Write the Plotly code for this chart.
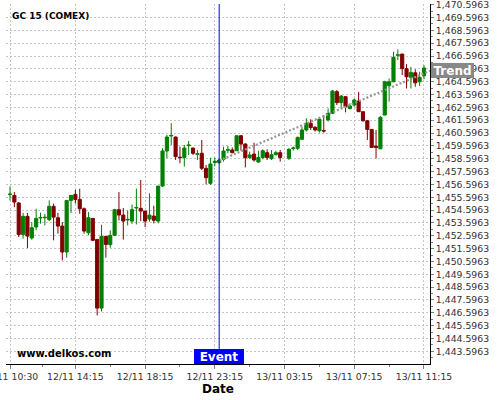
import plotly.graph_objects as go

# ---- data (15-minute bars, GC COMEX) ----
opens = [1455.80, 1455.74, 1455.15, 1452.70, 1454.11, 1452.42, 1453.28, 1453.98, 1454.00, 1453.85,
         1454.89, 1454.00, 1453.35, 1451.33, 1455.35, 1455.82, 1455.43, 1454.70, 1452.83, 1453.95,
         1452.31, 1446.96, 1452.55, 1451.90, 1452.63, 1454.63, 1454.21, 1453.83, 1453.74, 1454.76,
         1454.73, 1454.52, 1453.90, 1454.13, 1453.74, 1456.47, 1459.20, 1460.37, 1460.29, 1458.72,
         1458.70, 1459.62, 1459.43, 1458.94, 1459.02, 1457.85, 1456.68, 1458.30, 1458.29, 1458.55,
         1459.26, 1459.28, 1459.22, 1460.39, 1459.74, 1458.70, 1458.96, 1458.34, 1458.70, 1459.07,
         1458.60, 1458.91, 1459.07, None, 1458.63, 1459.39, 1459.41, 1460.11, 1460.84, 1461.36,
         1461.04, 1460.78, 1460.80, 1461.62, 1462.13, 1463.82, 1462.97, 1463.43, 1462.50, 1462.78,
         1463.09, 1462.26, 1461.56, 1460.88, 1459.58, 1459.37, 1462.00, 1464.28, 1464.59, 1466.65,
         1466.75, 1465.61, 1464.93, 1465.29, 1464.59, 1465.06]
highs = [1456.44, 1456.00, 1455.22, 1454.39, 1454.37, 1453.66, 1454.70, 1454.39, 1454.31, 1455.35,
         1455.10, 1454.39, 1453.66, 1455.35, 1455.74, 1456.18, 1456.26, 1454.80, 1454.44, 1453.98,
         1452.35, 1453.46, 1452.58, 1453.02, 1454.70, 1456.00, 1454.76, 1454.57, 1455.04, 1456.26,
         1456.94, 1454.55, 1455.90, 1454.94, 1456.47, 1459.41, 1460.45, 1461.36, 1460.32, 1459.54,
         1459.67, 1459.98, 1459.45, 1459.28, 1460.06, 1458.11, 1458.68, 1458.68, 1458.60, 1459.54,
         1459.59, 1459.48, 1460.39, 1460.42, 1459.80, 1459.15, 1459.85, 1459.22, 1459.33, 1459.33,
         1459.28, 1459.22, 1459.28, None, 1459.41, 1459.54, 1460.32, 1461.10, 1461.75, 1461.67,
         1461.15, 1461.82, 1462.00, 1462.52, 1463.95, 1463.95, 1463.56, 1463.45, 1462.91, 1463.30,
         1463.81, 1462.28, 1461.61, 1460.90, 1460.83, 1461.92, 1464.67, 1464.85, 1466.93, 1467.11,
         1466.77, 1465.97, 1465.76, 1465.56, 1465.37, 1465.89]
lows = [1455.35, 1454.83, 1452.50, 1452.37, 1451.64, 1452.29, 1453.02, 1453.54, 1453.40, 1453.74,
        1452.24, 1452.76, 1450.68, 1450.89, 1454.37, 1455.10, 1454.31, 1452.76, 1452.63, 1452.18,
        1446.39, 1446.70, 1450.89, 1451.66, 1452.60, 1453.79, 1452.29, 1453.40, 1453.53, 1453.48,
        1453.74, 1453.28, 1453.69, 1453.56, 1453.56, 1456.40, 1458.63, 1459.67, 1458.50, 1458.24,
        1457.98, 1458.89, 1458.89, 1458.50, 1457.72, 1456.60, 1456.55, 1458.00, 1458.20, 1458.37,
        1459.02, 1459.02, 1459.22, 1459.22, 1457.92, 1458.57, 1458.37, 1458.29, 1458.55, 1458.50,
        1458.50, 1458.86, 1458.37, None, 1458.50, 1459.23, 1459.28, 1460.06, 1460.71, 1460.84,
        1460.71, 1460.63, 1460.63, 1461.49, 1462.10, 1462.78, 1462.52, 1462.21, 1462.45, 1462.65,
        1462.24, 1461.48, 1460.05, 1459.45, 1458.62, 1459.35, 1461.98, 1463.04, 1464.57, 1466.28,
        1465.11, 1464.07, 1464.07, 1464.20, 1464.26, 1464.78]
closes = [1455.84, 1455.22, 1452.70, 1454.11, 1452.57, 1453.22, 1453.95, 1454.02, 1454.03, 1454.89,
          1454.05, 1453.35, 1451.33, 1455.35, 1455.74, 1455.43, 1454.70, 1452.96, 1454.00, 1452.24,
          1446.96, 1452.55, 1451.92, 1452.63, 1454.63, 1454.21, 1453.74, 1453.87, 1454.63, 1454.80,
          1454.52, 1453.74, 1454.21, 1453.80, 1456.47, 1459.20, 1460.29, 1460.41, 1458.76, 1458.68,
          1459.43, 1459.66, 1459.02, 1458.98, 1457.85, 1457.12, 1458.19, 1458.40, 1458.50, 1459.20,
          1459.30, 1459.07, 1460.39, 1459.74, 1458.68, 1458.89, 1458.50, 1458.70, 1459.22, 1458.70,
          1458.91, 1459.07, 1458.70, None, 1459.33, 1459.43, 1460.26, 1460.84, 1461.36, 1461.02,
          1460.84, 1461.67, 1460.76, 1462.13, 1463.87, 1462.97, 1463.48, 1462.65, 1462.71, 1463.17,
          1462.26, 1461.56, 1460.88, 1459.48, 1459.48, 1461.82, 1464.59, 1464.59, 1466.49, 1466.69,
          1465.61, 1464.98, 1465.32, 1464.51, 1464.93, 1465.66]

tick_bars = [0, 15, 31, 47, 63, 79, 95]
tick_labels = ["12/11 10:30", "12/11 14:15", "12/11 18:15", "12/11 23:15",
               "13/11 03:15", "13/11 07:15", "13/11 11:15"]
minor_bars = [7.5, 23, 39, 55, 71, 87]

event_bar = 48
trend_x = [48, 96.4]
trend_y = [1458.45, 1465.45]
y_base = 1443.5963
y_top = 1470.5963

# ---- build ----
valid = [i for i, o in enumerate(opens) if o is not None]
xs = valid
o_ = [opens[i] for i in valid]
h_ = [highs[i] for i in valid]
l_ = [lows[i] for i in valid]
c_ = [closes[i] for i in valid]

ytick_vals = [y_base + k for k in range(int(round(y_top - y_base)) + 1)]
ytick_text = [f"{v:,.4f}" for v in ytick_vals]

FONT = "DejaVu Sans"
GREEN = "#008000"
RED = "#800000"

fig = go.Figure()
fig.add_trace(go.Candlestick(
    x=xs, open=o_, high=h_, low=l_, close=c_,
    increasing=dict(line=dict(color=GREEN, width=1), fillcolor=GREEN),
    decreasing=dict(line=dict(color=RED, width=1), fillcolor=RED),
    whiskerwidth=0, showlegend=False, hoverinfo="skip",
))
fig.add_trace(go.Scatter(
    x=trend_x, y=trend_y, mode="lines",
    line=dict(color="#959595", width=2.2, dash="2px,2px"),
    showlegend=False, hoverinfo="skip",
))

fig.add_shape(type="line", xref="x", yref="paper", x0=event_bar, x1=event_bar,
              y0=0, y1=1, line=dict(color="#0000ff", width=1), layer="above")

fig.add_annotation(xref="paper", yref="paper", x=0.0094, y=0.968, xanchor="left",
                   yanchor="middle", text="GC 15 (COMEX)", showarrow=False,
                   font=dict(family=FONT, size=9, color="#000000", weight="bold"))
fig.add_annotation(xref="paper", yref="paper", x=0.021, y=0.028, xanchor="left",
                   yanchor="middle", text="www.delkos.com", showarrow=False,
                   font=dict(family=FONT, size=10, color="#000000", weight="bold"))
fig.add_annotation(xref="x", yref="paper", x=event_bar, y=0, xanchor="center",
                   yanchor="bottom", text="Event", showarrow=False, width=50, height=15,
                   bgcolor="#0000ff", borderpad=0, borderwidth=0,
                   font=dict(family=FONT, size=12, color="#ffffff", weight="bold"))
fig.add_annotation(xref="paper", yref="y", x=1, y=trend_y[1], xanchor="left",
                   yanchor="middle", text="Trend", showarrow=False, width=43, height=15,
                   bgcolor="#888888", borderpad=0, borderwidth=0, xshift=1,
                   font=dict(family=FONT, size=12, color="#ffffff", weight="bold"))

fig.update_layout(
    width=500, height=400,
    margin=dict(l=6, r=70, t=4, b=36, autoexpand=False),
    paper_bgcolor="#ffffff", plot_bgcolor="#ffffff",
    font=dict(family=FONT, size=9.3, color="#333333"),
    boxgap=0.28, boxgroupgap=0,
    xaxis=dict(
        range=[-0.92, 96.38], rangeslider=dict(visible=False), automargin=False,
        tickmode="array", tickvals=tick_bars, ticktext=tick_labels,
        ticklabeloverflow="allow",
        showline=True, linecolor="#000000", linewidth=1,
        ticks="outside", ticklen=4, tickcolor="#808080",
        showgrid=True, gridcolor="#c4c4c4", griddash="2px,2px", gridwidth=1,
        zeroline=False,
        minor=dict(tickmode="array", tickvals=minor_bars, ticks="outside",
                   ticklen=2, tickcolor="#808080", showgrid=False),
        title=dict(text="Date", standoff=2,
                   font=dict(family=FONT, size=12, color="#000000", weight="bold")),
        tickfont=dict(family=FONT, size=9.3, color="#333333"),
    ),
    yaxis=dict(
        side="right", range=[1442.607, 1470.65], automargin=False,
        tickmode="array", tickvals=ytick_vals, ticktext=ytick_text,
        ticklabeloverflow="allow",
        showline=True, linecolor="#000000", linewidth=1,
        ticks="outside", ticklen=3, tickcolor="#808080",
        showgrid=True, gridcolor="#c4c4c4", griddash="2px,2px", gridwidth=1,
        zeroline=False,
        minor=dict(dtick=0.5, tick0=y_base, ticks="outside", ticklen=2,
                   tickcolor="#808080", showgrid=False),
        tickfont=dict(family=FONT, size=9.3, color="#333333"),
    ),
)

fig.write_html("out.html", config={"displayModeBar": False},
               post_script="document.body.style.margin='0';document.body.style.padding='0';")
